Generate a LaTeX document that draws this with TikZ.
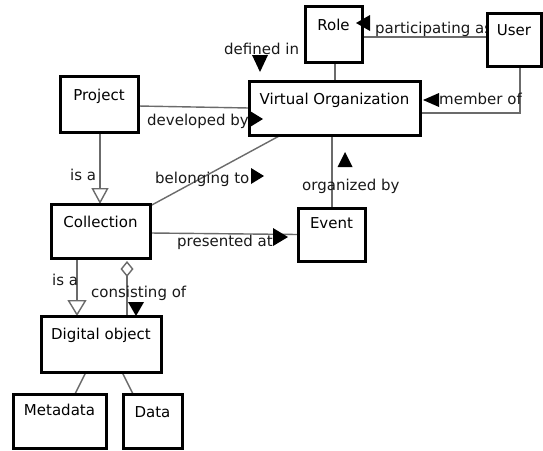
\documentclass[tikz,border=0pt]{standalone}
\usepackage{fontspec}
\setmainfont{DejaVu Sans}
\usetikzlibrary{arrows.meta,shapes.geometric}
\pgfdeclarelayer{background}
\pgfsetlayers{background,main}
\begin{document}
\begin{tikzpicture}[x=1pt,y=-1pt,
  font=\fontsize{15}{17}\selectfont,
  cls/.style={draw=black, line width=3pt, fill=white, rectangle,
    inner xsep=2pt, inner ysep=0pt, outer sep=0pt, anchor=north, align=center},
  conn/.style={draw=black!58, line width=1.4pt},
  lbl/.style={inner sep=0pt, anchor=base west, text=black!90},
  dirtri/.style={isosceles triangle, isosceles triangle stretches, fill=black,
    inner sep=0pt, outer sep=0pt, anchor=apex},
  gen/.style={-{Triangle[open, length=16pt, width=17pt]}},
  agg/.style={{Diamond[open, length=16pt, width=13pt]}-}
]
\useasboundingbox (0,0) rectangle (543,450);

% classes
\node[cls, minimum width=57pt,  text height=24pt, text depth=32pt] (role)    at (333.5,6)  {Role};
\node[cls, minimum width=54pt,  text height=22pt, text depth=31pt] (user)    at (514,13)   {User};
\node[cls, minimum width=171pt, text height=23pt, text depth=31pt] (vo)      at (334.5,81) {Virtual Organization};
\node[cls, minimum width=78pt,  text height=24pt, text depth=32pt] (project) at (99,76)    {Project};
\node[cls, minimum width=99pt,  text height=23pt, text depth=31pt] (coll)    at (100.5,204){Collection};
\node[cls, minimum width=67pt,  text height=20pt, text depth=33pt] (event)   at (331.5,208){Event};
\node[cls, minimum width=120pt, text height=23pt, text depth=33pt] (dobj)    at (101,316)  {Digital object};
\node[cls, minimum width=93pt,  text height=21pt, text depth=33pt] (meta)    at (59.5,394) {Metadata};
\node[cls, minimum width=59pt,  text height=23pt, text depth=31pt] (data)    at (152.5,394){Data};

\begin{pgfonlayer}{background}
  \fill[white] (0,0) rectangle (543,450);
  % associations
  \draw[conn] ([yshift=-3pt]role.east) -- ([yshift=-3pt]role.east -| user.west);
  \draw[conn] ([xshift=1.5pt]role.south) -- ([xshift=1.5pt]role.south |- vo.north);
  \draw[conn] ([xshift=6pt]user.south) |- ([yshift=-5pt]vo.east);
  \draw[conn] ([yshift=-2pt]project.east) -- (vo.west);
  \draw[conn] ([yshift=-2pt]coll.north east) -- ([xshift=-53.5pt]vo.south);
  \draw[conn] ([yshift=-2pt]coll.east) -- (event.west);
  \draw[conn] ([xshift=-2.5pt]vo.south) -- ([xshift=-2.5pt]vo.south |- event.north);
  % generalisations and aggregation
  \draw[conn, gen] ([xshift=1pt]project.south) -- ([xshift=1pt]project.south |- coll.north);
  \draw[conn, -{Triangle[open, length=16pt, width=19pt]}]
    ([xshift=-23.5pt]coll.south) -- ([xshift=-23.5pt]coll.south |- dobj.north);
  \draw[conn, agg] ([xshift=26.5pt, yshift=-3pt]coll.south) -- ([xshift=26.5pt]coll.south |- dobj.north);
  % parts of a digital object
  \draw[conn] ([xshift=-15pt]dobj.south) -- ([xshift=15.5pt]meta.north);
  \draw[conn] ([xshift=21pt]dobj.south) -- ([xshift=-19.5pt]data.north);

  % association names
  \node[lbl] (definedT) at (224,54)  {defined in};
  \node[lbl] (partT)    at (375,33)  {participating as};
  \node[lbl] (memberT)  at (439,104) {member of};
  \node[lbl] (devT)     at (147,125) {developed by};
  \node[lbl] (isaA)     at (70,180)  {is a};
  \node[lbl] (belongT)  at (155,183) {belonging to};
  \node[lbl] (presT)    at (177,246) {presented at};
  \node[lbl] (orgT)     at (302,190) {organized by};
  \node[lbl] (isaB)     at (52,285)  {is a};
  \node[lbl] (consT)    at (91,297)  {consisting of};
\end{pgfonlayer}

% reading-direction triangles
\node[dirtri, minimum width=16pt, minimum height=14pt, rotate=180] (triRole)   at (356,23)  {};
\node[dirtri, minimum width=16pt, minimum height=17pt, rotate=-90] (triDef)    at (260,72)  {};
\node[dirtri, minimum width=14pt, minimum height=16pt, rotate=180] (triMember) at (423,100) {};
\node[dirtri, minimum width=16pt, minimum height=13pt]              (triDev)    at (263,119) {};
\node[dirtri, minimum width=16pt, minimum height=13pt]              (triBelong) at (264,176) {};
\node[dirtri, minimum width=18pt, minimum height=15pt]              (triPres)   at (288,237) {};
\node[dirtri, minimum width=15pt, minimum height=15pt, rotate=90]  (triOrg)    at (345,152) {};
\node[dirtri, minimum width=16pt, minimum height=14pt, rotate=-90] (triCons)   at (136,316) {};
\end{tikzpicture}
\end{document}
